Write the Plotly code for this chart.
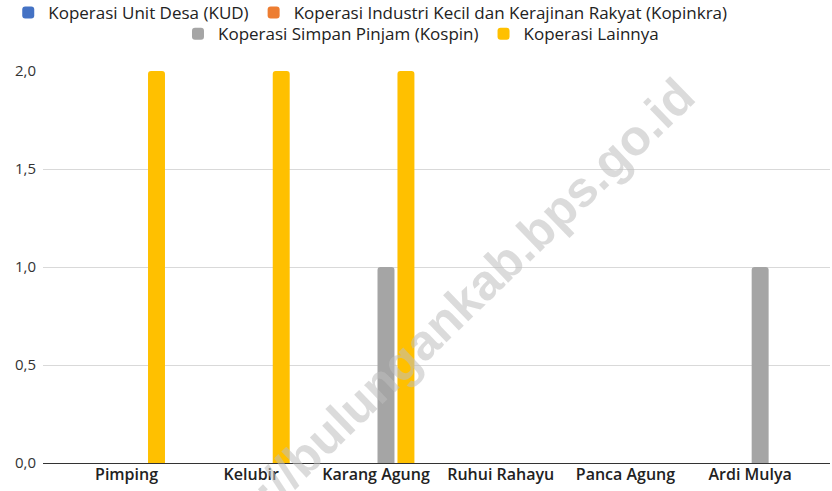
import plotly.graph_objects as go

# --- data ---
desa = ["Pimping", "Kelubir", "Karang Agung", "Ruhui Rahayu", "Panca Agung", "Ardi Mulya"]
kud = [0, 0, 0, 0, 0, 0]
kopinkra = [0, 0, 0, 0, 0, 0]
kospin = [0, 0, 1, 0, 0, 1]
lainnya = [2, 2, 2, 0, 0, 0]

series = [
    ("Koperasi Unit Desa (KUD)", kud, "#4472c4", "legend"),
    ("Koperasi Industri Kecil dan Kerajinan Rakyat (Kopinkra)", kopinkra, "#ed7d31", "legend"),
    ("Koperasi Simpan Pinjam (Kospin)", kospin, "#a5a5a5", "legend2"),
    ("Koperasi Lainnya", lainnya, "#ffc000", "legend2"),
]

fig = go.Figure()
for name, vals, color, leg in series:
    fig.add_trace(go.Bar(x=desa, y=vals, name=name, marker_color=color,
                         marker_line_width=0, legend=leg))

legend_font = dict(family="Open Sans", size=17, color="#222222")
fig.update_layout(
    width=832, height=491,
    barmode="group", bargap=0.36, bargroupgap=0.15, barcornerradius=3,
    plot_bgcolor="white", paper_bgcolor="white",
    margin=dict(l=43, r=2, t=71, b=28, autoexpand=False),
    legend=dict(orientation="h", xref="container", x=0.445, xanchor="center",
                y=1.194, yanchor="top", font=legend_font,
                bgcolor="rgba(0,0,0,0)", itemclick=False, traceorder="normal"),
    legend2=dict(orientation="h", xref="container", x=0.506, xanchor="center",
                 y=1.14, yanchor="top", font=legend_font,
                 bgcolor="rgba(0,0,0,0)", itemclick=False, traceorder="normal"),
    font=dict(family="Open Sans", color="#222222"),
    separators=", ",
)
fig.update_xaxes(range=[-0.67, 5.64], showgrid=False, ticks="",
                 tickfont=dict(size=16, color="#222222", family="Open Sans", weight=600))
fig.update_yaxes(range=[0, 2], dtick=0.5, tickformat=".1f", showgrid=True,
                 gridcolor="#d9d9d9", zeroline=True, zerolinecolor="#333333",
                 zerolinewidth=1, ticks="", ticklabelstandoff=6,
                 tickfont=dict(size=15, color="#333333", family="Open Sans"))

# watermark
fig.add_annotation(text="<b>http://bulungankab.bps.go.id</b>", xref="paper", yref="paper",
                   x=0.503, y=0.35, showarrow=False, textangle=-44,
                   font=dict(size=50, color="rgba(190,190,190,0.55)",
                             family="Liberation Sans"))

# drop the default 8px body margin so the figure fills the window
fig.write_html("out.html", config={"displayModeBar": False},
               post_script="document.body.style.margin = '0';")
